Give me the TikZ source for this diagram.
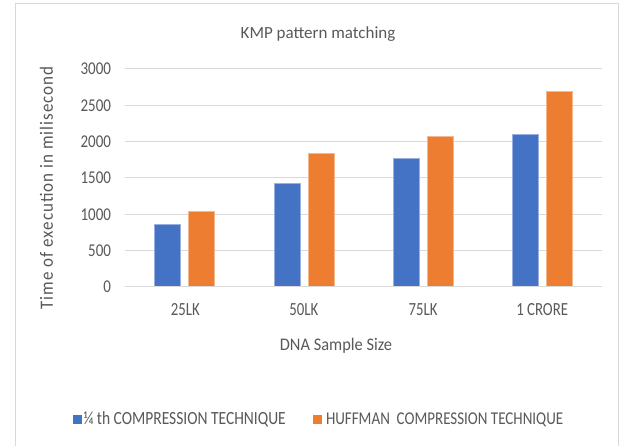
\documentclass[tikz,border=0pt]{standalone}
\usepackage{fontspec}
\setmainfont{Carlito}
\newfontfamily\spacedfont[LetterSpace=6]{Carlito}
\definecolor{txt}{HTML}{595959}
\definecolor{gridc}{HTML}{D9D9D9}
\definecolor{framec}{HTML}{D9D9D9}
\definecolor{sblue}{HTML}{4472C4}
\definecolor{sorange}{HTML}{ED7D31}
\newcommand\myfs[1]{\fontsize{#1}{#1}\selectfont}
\begin{document}
\begin{tikzpicture}[x=1pt,y=-1pt,
  lbl/.style={inner sep=0pt,outer sep=0pt,text=txt},
  gridline/.style={draw=gridc,line width=1pt},
  bblue/.style={fill=sblue,draw=sblue!55!white,line width=0.5pt},
  borange/.style={fill=sorange,draw=sorange!55!white,line width=0.5pt}]
\useasboundingbox (0,0) rectangle (619,446);
\clip (0,0) rectangle (619,446);
\fill[white] (0,0) rectangle (619,446);
% outer frame
\draw[framec,line width=1pt] (15,470) -- (15,4) -- (618,4) -- (618,470);
% title
\node[lbl,anchor=base] (title) at (318,38.3) {\myfs{17}KMP pattern matching};
% gridlines and tick labels
\foreach \v/\t in {1/500,2/1000,3/1500,4/2000,5/2500,6/3000}{
  \draw[gridline] (125,{286.6-36.27*\v}) -- (602,{286.6-36.27*\v});
}
\foreach \v/\t in {0/0,1/500,2/1000,3/1500,4/2000,5/2500,6/3000}{
  \node[lbl,anchor=base east] (t\v) at (111,{292.6-36.27*\v}) {\myfs{15}\scalebox{1}[1.2]{\t}};
}
% bars
\foreach \i/\b/\o in {0/860/1045,1/1430/1840,2/1775/2075,3/2095/2690}{
  \pgfmathsetmacro\cx{184.6+119.25*\i}
  \draw[bblue] ({\cx-30},286.6) rectangle ({\cx-4},{286.6-0.07253*\b});
  \draw[borange] ({\cx+4},286.6) rectangle ({\cx+30},{286.6-0.07253*\o});
}
% zero axis
\draw[gridline] (125,286.6) -- (602,286.6);
% category labels
\node[lbl,anchor=base] (c0) at (185.3,316) {\myfs{14.8}\scalebox{1}[1.25]{25LK}};
\node[lbl,anchor=base] (c1) at (303.8,316) {\myfs{14.8}\scalebox{1}[1.25]{50LK}};
\node[lbl,anchor=base] (c2) at (423.1,316) {\myfs{14.8}\scalebox{1}[1.25]{75LK}};
\node[lbl,anchor=base] (c3) at (542.2,316) {\myfs{14.8}\scalebox{1}[1.25]{1 CRORE}};
% axis titles
\node[lbl,anchor=base] (xlabel) at (336,350.7) {\myfs{16.4}\scalebox{1}[1.08]{DNA Sample Size}};
\node[lbl,rotate=90] (ylabel) at (46.5,188) {\spacedfont\myfs{17}\scalebox{1}[1.1]{Time of execution in milisecond}};
% legend
\fill[sblue] (73,415) rectangle (82,424);
\node[lbl,anchor=base west] (leg1) at (83.5,424.3) {\myfs{15.5}\scalebox{1}[1.2]{¼ th COMPRESSION TECHNIQUE}};
\fill[sorange] (313,415) rectangle (321.5,424);
\node[lbl,anchor=base west] (leg2) at (326,424.3) {\myfs{15}\scalebox{1}[1.2]{HUFFMAN\ \ COMPRESSION TECHNIQUE}};
\end{tikzpicture}
\end{document}
